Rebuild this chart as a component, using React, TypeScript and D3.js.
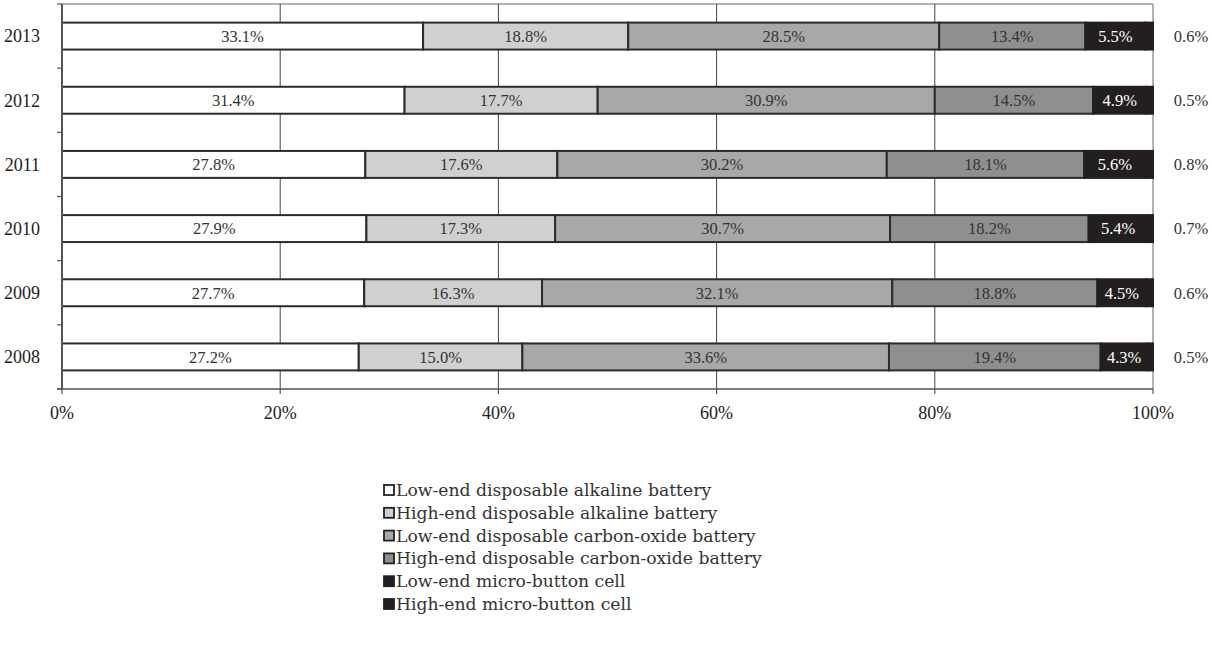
import React from "react";
import * as d3 from "d3";

const years = ["2013", "2012", "2011", "2010", "2009", "2008"];
const seriesNames = [
  "Low-end disposable alkaline battery",
  "High-end disposable alkaline battery",
  "Low-end disposable carbon-oxide battery",
  "High-end disposable carbon-oxide battery",
  "Low-end micro-button cell",
  "High-end micro-button cell",
];
const lowAlk = [33.1, 31.4, 27.8, 27.9, 27.7, 27.2];
const highAlk = [18.8, 17.7, 17.6, 17.3, 16.3, 15.0];
const lowCarb = [28.5, 30.9, 30.2, 30.7, 32.1, 33.6];
const highCarb = [13.4, 14.5, 18.1, 18.2, 18.8, 19.4];
const lowMicro = [5.5, 4.9, 5.6, 5.4, 4.5, 4.3];
const highMicro = [0.6, 0.5, 0.8, 0.7, 0.6, 0.5];
const xTicks = [0, 20, 40, 60, 80, 100];

const colors = ["#ffffff", "#d0d0d0", "#a8a8a8", "#8f8f8f", "#231f20", "#231f20"];
const labelColors = ["#333", "#333", "#333", "#333", "#fff", "#333"];

export default function App() {
  const W = 1212, H = 648;
  const left = 62, right = 1153, top = 4, bottom = 389;
  const x = d3.scaleLinear().domain([0, 100]).range([left, right]);
  const y = d3.scaleBand().domain(years).range([top, bottom]).paddingInner(0.58).paddingOuter(0.29);
  const all = [lowAlk, highAlk, lowCarb, highCarb, lowMicro, highMicro];
  const font = "Liberation Serif";
  const bandStep = (bottom - top) / years.length;

  return (
    <svg width={W} height={H} fontFamily={font} style={{ position: "absolute", left: 0, top: 0 }}>
      <rect x={0} y={0} width={W} height={H} fill="#fff" />
      <line x1={left} x2={right} y1={top} y2={top} stroke="#999" strokeWidth={1.5} />
      <line x1={right} x2={right} y1={top} y2={bottom} stroke="#999" strokeWidth={1.5} />
      {xTicks.slice(1, -1).map((t) => (
        <line key={t} x1={x(t)} x2={x(t)} y1={top} y2={bottom} stroke="#444" strokeWidth={1} />
      ))}
      {years.map((yr, i) => {
        let cum = 0;
        const y0 = y(yr)!;
        const bh = y.bandwidth();
        return (
          <g key={yr}>
            {all.map((s, k) => {
              const v = s[i];
              const x0 = x(cum);
              const last = k === all.length - 1;
              const end = last ? 100 : cum + v;
              cum += v;
              const w = x(Math.min(end, 100)) - x0;
              return (
                <rect key={k} x={x0} y={y0} width={Math.max(w, 0)} height={bh} fill={colors[k]}
                  stroke={k >= 4 ? "#231f20" : "#2b2b2b"} strokeWidth={2} />
              );
            })}
            {(() => {
              let c = 0;
              return all.map((s, k) => {
                const v = s[i];
                const cx = k === all.length - 1 ? 1191 : x(c + v / 2);
                c += v;
                return (
                  <text key={"t" + k} x={cx} y={y0 + bh / 2} dy="0.35em" textAnchor="middle"
                    fontSize={16.5} fill={labelColors[k]}>
                    {v.toFixed(1)}%
                  </text>
                );
              });
            })()}
          </g>
        );
      })}
      <line x1={left} x2={left} y1={top} y2={bottom} stroke="#555" strokeWidth={2} />
      {d3.range(years.length + 1).map((j) => (
        <line key={j} x1={left - 5} x2={left} y1={top + j * bandStep} y2={top + j * bandStep} stroke="#555" strokeWidth={1.2} />
      ))}
      {years.map((yr) => (
        <text key={yr} x={40} y={y(yr)! + y.bandwidth() / 2} dy="0.35em" textAnchor="end" fontSize={18} fill="#222">
          {yr}
        </text>
      ))}
      <line x1={left - 5} x2={right} y1={bottom} y2={bottom} stroke="#555" strokeWidth={1.5} />
      {xTicks.map((t) => (
        <g key={t}>
          <line x1={x(t)} x2={x(t)} y1={bottom} y2={bottom + 5} stroke="#555" strokeWidth={1.2} />
          <text x={x(t)} y={413} dy="0.35em" textAnchor="middle" fontSize={18} fill="#222">
            {t}%
          </text>
        </g>
      ))}
      {seriesNames.map((n, k) => {
        const ly = 490 + k * 22.8;
        return (
          <g key={n}>
            <rect x={384} y={ly - 5} width={10} height={10} fill={colors[k]} stroke="#222" strokeWidth={1.8} />
            <text x={396} y={ly} dy="0.35em" fontSize={17.2} fontFamily="DejaVu Serif" fill="#333">{n}</text>
          </g>
        );
      })}
    </svg>
  );
}
